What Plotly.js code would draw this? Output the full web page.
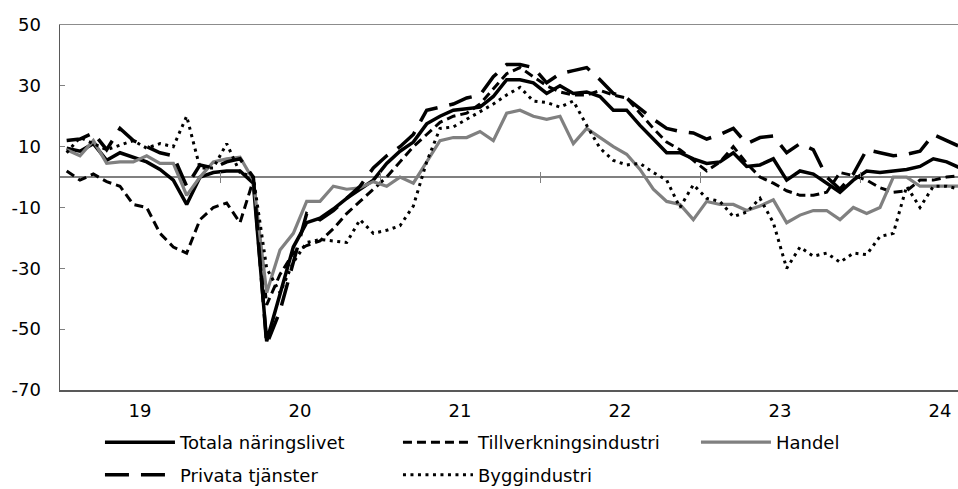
<!DOCTYPE html>
<html><head><meta charset="utf-8">
<script src="https://cdn.plot.ly/plotly-3.0.1.min.js"></script>
<style>html,body{margin:0;padding:0;background:#fff}#chart{width:958px;height:489px}</style>
</head><body><div id="chart"></div>
<script>
const months = ['2019-01','2019-02','2019-03','2019-04','2019-05','2019-06','2019-07','2019-08','2019-09','2019-10','2019-11','2019-12',
'2020-01','2020-02','2020-03','2020-04','2020-05','2020-06','2020-07','2020-08','2020-09','2020-10','2020-11','2020-12',
'2021-01','2021-02','2021-03','2021-04','2021-05','2021-06','2021-07','2021-08','2021-09','2021-10','2021-11','2021-12',
'2022-01','2022-02','2022-03','2022-04','2022-05','2022-06','2022-07','2022-08','2022-09','2022-10','2022-11','2022-12',
'2023-01','2023-02','2023-03','2023-04','2023-05','2023-06','2023-07','2023-08','2023-09','2023-10','2023-11','2023-12',
'2024-01','2024-02','2024-03','2024-04','2024-05','2024-06','2024-07','2024-08'];
const totala = [9.5,8.5,11,5.5,8,6.5,5,2.5,-1,-9,0,1.5, 2,2,-2,-54,-38,-23,-15,-13.5,-10.5,-7,-4,-1,
 4.5,8.5,11.5,17.5,20,22,22.5,23,26.5,32,32,31, 27.5,30,27.5,28,26.5,22,22,17,12.5,8,8,6,
 4.5,5,8,3.5,4,6,-1,2,1,-2,-5,-1, 2,1.5,2,2.5,3.5,6,5,3];
const tillverkning = [2,-1,1,-1.5,-3,-9,-10,-18.5,-23,-25,-14,-10, -8.5,-15,-1,-42,-32,-25,-22.5,-21,-17,-12,-8,-4,
 0,5,10,14,18,20,21,24,29,34,36,33, 30,28,27,27,28.5,27,26,21,16,11.5,9,5.5,
 2,5,10,4.5,0,-2,-4.5,-6,-6,-5,1.5,0.5, -1,-3.5,-5,-4.5,-1,-1,0,0.5];
const handel = [9,7,12,4.5,5,5,7,4.5,4.5,-6,0,5, 6,6.5,-1,-38,-24,-18.5,-8,-8,-3,-4,-3.5,-1.5,
 -3,0,-2,5,12,13,13,15,12,21,22,20, 19,20,11,16,13,10,7.5,2.5,-4,-8,-9,-14,
 -8,-9,-9,-11,-9.5,-7.5,-15,-12.5,-11,-11,-14,-10, -12,-10,0,0,-3,-3,-3,-3];
const privata = [12,12.5,14.5,9,16,12,10,8,7,-3,4,3, 5,6,0,-55,-44,-28,-12,-14,-11,-7,-3,3,
 7,10,14,22,23,24,26,27,33,37,37,36, 31,34,35,36,32,27.5,26,22.5,19,16,15,14.5,
 12.5,14,16,11,13,13.5,8,11,9,0,-4,1, 9,8,7,7.5,8.5,14,12,10];
const bygg = [8,13,11,9,10.5,12,9.5,11,10,20,3,3, 11,1.5,0,-30,-38,-28,-21.5,-20.5,-21,-21.5,-14,-18.5,
 -17.5,-16,-9.5,5,16,16.5,19,21.5,24,27,29.5,25, 24.5,23,25,17,9.5,5.5,4,4.5,1.5,-1,-10,-2.5,
 -7,-8,-13,-11.5,-7,-15,-30,-23,-26,-25,-28,-25, -25.5,-19.5,-18.5,-3,-10,-3,-3,-4];
const seriesNames = ['Totala näringslivet','Tillverkningsindustri','Handel','Privata tjänster','Byggindustri'];
const yearLabels = ['19','20','21','22','23','24'];
const yTickVals = [-70,-50,-30,-10,10,30,50];
const yTickText = ['-70','-50','-30','-10','10','30','50'];

const idx = months.map((m,i)=>i);
const yearCenters = yearLabels.map((y,k)=>k*12+5.5);
const yearBounds = [11.5,23.5,35.5,47.5,59.5];
const FONT = 'DejaVu Sans';

function tr(y, name, color, width, dash, leg){
  return {x: idx, y: y, name: name, type:'scatter', mode:'lines', text: months, legend: leg,
    line:{color:color, width:width, dash:dash}, hovertemplate:'%{text}: %{y}<extra>'+name+'</extra>'};
}
function dummy(ax){ return {x:[null], y:[null], xaxis:ax, showlegend:false, hoverinfo:'skip', type:'scatter', mode:'lines'}; }
const data = [
  tr(totala, seriesNames[0], '#000000', 3.5, 'solid', 'legend'),
  tr(tillverkning, seriesNames[1], '#000000', 3, '9px,5px', 'legend'),
  tr(handel, seriesNames[2], '#808080', 3.2, 'solid', 'legend'),
  tr(privata, seriesNames[3], '#000000', 3.5, '24px,12px', 'legend2'),
  tr(bygg, seriesNames[4], '#000000', 3, '3px,4.5px', 'legend2'),
  dummy('x2'), dummy('x3'), dummy('x4')
];
const xr = [-0.5, 66.85];
const zeroPos = 70/120;
const legBase = {orientation:'h', xanchor:'left', yanchor:'top', entrywidth:213, itemwidth:70,
  font:{family:FONT, size:18}, bgcolor:'rgba(0,0,0,0)', x:0.0445};
const tickAx = (dir)=>({range:xr, overlaying:'x', anchor:'free', position:zeroPos, showgrid:false, zeroline:false, showline:false,
    tickmode:'array', tickvals:yearBounds, ticks:dir, ticklen:5, tickwidth:1, tickcolor:'#808080', showticklabels:false});
const layout = {
  width:958, height:489,
  margin:{l:60, r:0, t:25, b:99, autoexpand:false},
  paper_bgcolor:'#fff', plot_bgcolor:'#fff',
  font:{family:FONT, size:18, color:'#000'},
  showlegend:true,
  legend:Object.assign({}, legBase, {y:-0.093}),
  legend2:Object.assign({}, legBase, {y:-0.182}),
  xaxis:{range:xr, showgrid:false, zeroline:false, showline:true, linecolor:'#595959', linewidth:1.5,
    tickmode:'array', tickvals:yearCenters, ticktext:yearLabels, ticks:'', ticklabelstandoff:4,
    tickfont:{family:FONT, size:18}, fixedrange:true},
  xaxis2:tickAx('outside'),
  xaxis3:tickAx('inside'),
  xaxis4:{range:xr, overlaying:'x', side:'top', anchor:'y', showgrid:false, zeroline:false, showline:true,
    linecolor:'#8c8c8c', linewidth:1.5, ticks:'', showticklabels:false},
  yaxis:{range:[-70,50], tickmode:'array', tickvals:yTickVals, ticktext:yTickText, showgrid:false, zeroline:true, zerolinecolor:'#808080', zerolinewidth:1.5,
    showline:true, linecolor:'#595959', linewidth:1.5, ticks:'inside', ticklen:5, tickcolor:'#808080', ticklabelstandoff:14,
    tickfont:{family:FONT, size:18}, fixedrange:true}
};
Plotly.newPlot('chart', data, layout, {displayModeBar:false, staticPlot:true});
</script></body></html>
